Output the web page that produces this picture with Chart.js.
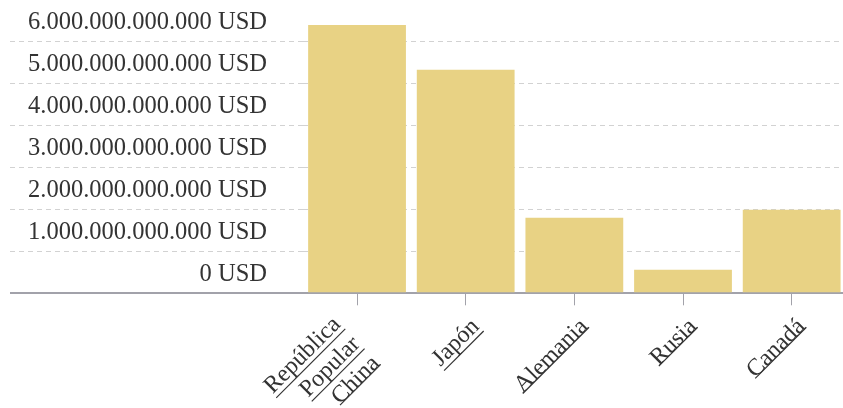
<!DOCTYPE html>
<html>
<head>
<meta charset="utf-8">
<script src="https://cdn.jsdelivr.net/npm/chart.js@4"></script>
<style>
  html, body { margin: 0; padding: 0; background: #fff; overflow: hidden; }
  canvas { display: block; }
</style>
</head>
<body>
<canvas id="grafico" width="846" height="408"></canvas>
<script>
// Países y valores (USD)
const paises = [['República', 'Popular', 'China'], 'Japón', 'Alemania', 'Rusia', 'Canadá'];
const valores = [6.4e12, 5.33e12, 1.8e12, 0.56e12, 1.99e12];
const marcasY = [0, 1e12, 2e12, 3e12, 4e12, 5e12, 6e12];
const maxY = 6.5e12;

const COLOR_BARRA = '#e8d284';
const COLOR_EJE = '#a2a2aa';
const COLOR_REJILLA = '#d2d2d2';
const COLOR_TEXTO = '#333';
const FUENTE = "'Liberation Serif', 'Times New Roman', serif";

const ANCHO_EJE_Y = 292.7;
const ALTO_EJE_X = 114.7;

function formatoUSD(v) {
    return String(Math.round(v)).replace(/\B(?=(\d{3})+(?!\d))/g, '.') + ' USD';
}

const esCero = ctx => ctx.tick && ctx.tick.value === 0;

// Subraya las etiquetas del eje X y recoloca las de varias líneas
const etiquetasEnlace = {
    id: 'etiquetasEnlace',
    beforeDraw(chart) {
        const items = chart.scales.x.getLabelItems();
        items.forEach(item => {
            if (item._listo) return;
            item._listo = true;
            item.options.underline = true;
            item.options.decorationWidth = 1.2;
            let [tx, ty] = item.options.translation;
            tx += 10;
            ty += 5;
            if (Array.isArray(item.label) && item.label.length > 1) {
                const lh = item.font.lineHeight;
                item.textOffset -= (item.label.length - 1) / 2 * lh - 5;
                tx -= 14;
                ty += 14;
            }
            item.options.translation = [tx, ty];
        });
    }
};

new Chart(document.getElementById('grafico'), {
    type: 'bar',
    data: {
        labels: paises,
        datasets: [{
            data: valores,
            backgroundColor: COLOR_BARRA,
            borderWidth: 0,
            barPercentage: 0.9,
            categoryPercentage: 1.0
        }]
    },
    options: {
        responsive: false,
        animation: false,
        devicePixelRatio: 1,
        layout: { padding: { top: 20.8, left: 10, right: 0, bottom: 0 } },
        plugins: {
            legend: { display: false },
            tooltip: { enabled: false }
        },
        scales: {
            x: {
                offset: true,
                afterFit: scale => { scale.height = ALTO_EJE_X; },
                border: { display: true, color: COLOR_EJE, width: 2 },
                grid: {
                    offset: false,
                    drawOnChartArea: false,
                    drawTicks: true,
                    tickLength: 12,
                    tickColor: COLOR_EJE,
                    tickWidth: 1
                },
                ticks: {
                    autoSkip: false,
                    maxRotation: 45,
                    minRotation: 45,
                    padding: 3,
                    color: COLOR_TEXTO,
                    font: { family: FUENTE, size: 24, lineHeight: 1.15 }
                }
            },
            y: {
                min: 0,
                max: maxY,
                afterFit: scale => { scale.width = ANCHO_EJE_Y; },
                afterBuildTicks: scale => { scale.ticks = marcasY.map(v => ({ value: v })); },
                border: {
                    display: false,
                    dash: ctx => esCero(ctx) ? [] : [5, 4]
                },
                grid: {
                    drawTicks: true,
                    tickLength: ANCHO_EJE_Y,
                    color: ctx => esCero(ctx) ? COLOR_EJE : COLOR_REJILLA,
                    lineWidth: ctx => esCero(ctx) ? 2 : 1,
                    tickColor: ctx => esCero(ctx) ? COLOR_EJE : COLOR_REJILLA,
                    tickWidth: ctx => esCero(ctx) ? 2 : 1,
                    tickBorderDash: ctx => esCero(ctx) ? [] : [5, 4]
                },
                ticks: {
                    padding: -257,
                    labelOffset: -19,
                    autoSkip: false,
                    color: COLOR_TEXTO,
                    font: { family: FUENTE, size: 24.5 },
                    callback: v => formatoUSD(v)
                }
            }
        }
    },
    plugins: [etiquetasEnlace]
});
</script>
</body>
</html>
